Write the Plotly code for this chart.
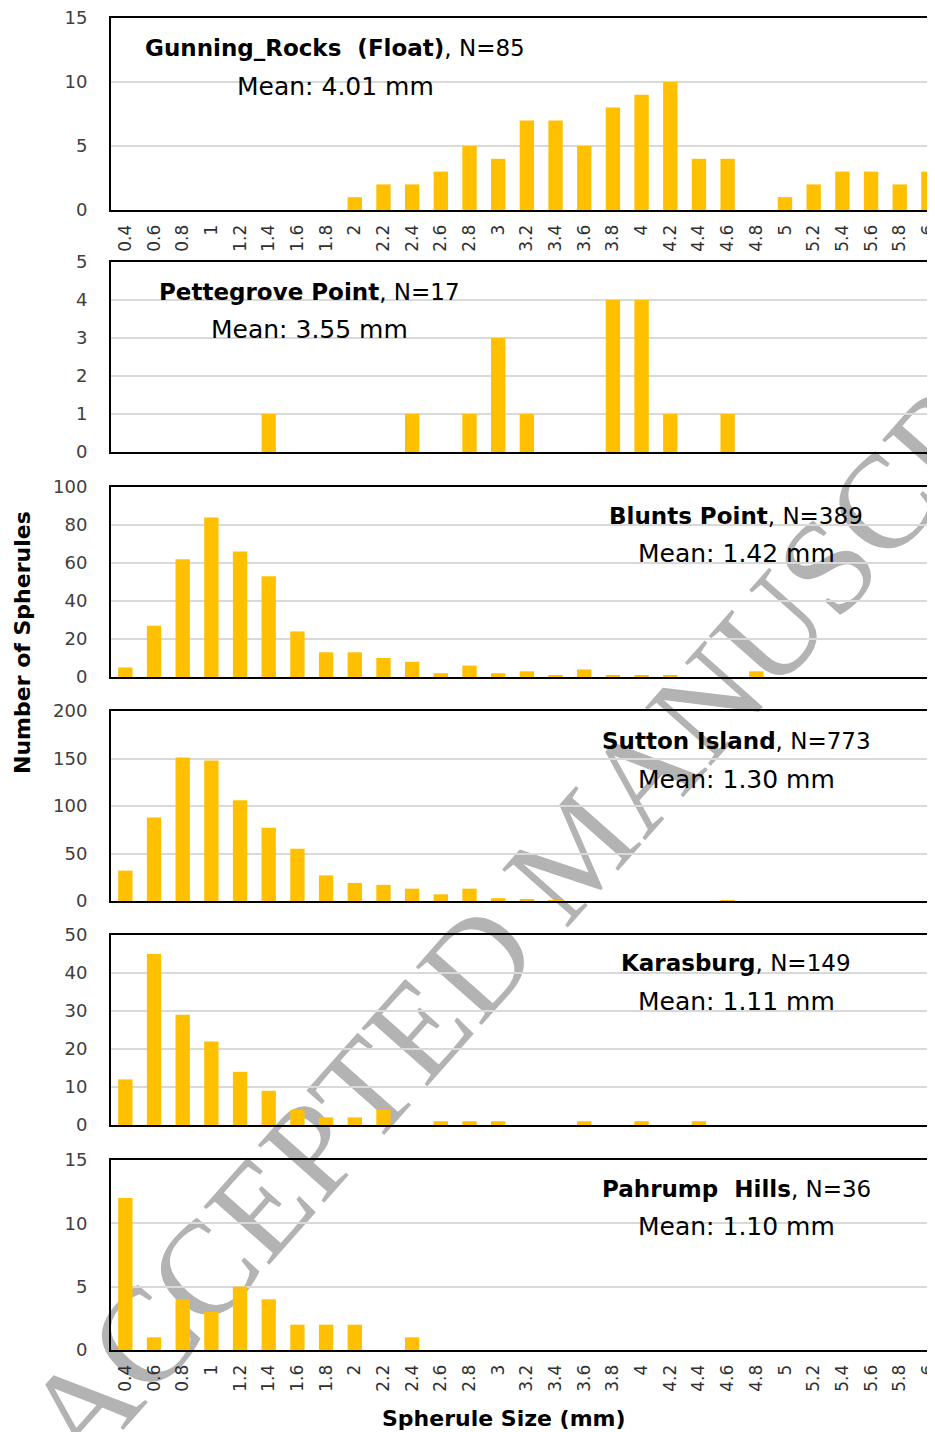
import plotly.graph_objects as go

# ---------------- data ----------------
cats = ["0.4", "0.6", "0.8", "1", "1.2", "1.4", "1.6", "1.8", "2", "2.2",
        "2.4", "2.6", "2.8", "3", "3.2", "3.4", "3.6", "3.8", "4", "4.2",
        "4.4", "4.6", "4.8", "5", "5.2", "5.4", "5.6", "5.8", "6"]

gunning_rocks = [0, 0, 0, 0, 0, 0, 0, 0, 1, 2, 2, 3, 5, 4, 7, 7, 5, 8, 9, 10,
                 4, 4, 0, 1, 2, 3, 3, 2, 3]
pettegrove = [0, 0, 0, 0, 0, 1, 0, 0, 0, 0, 1, 0, 1, 3, 1, 0, 0, 4, 4, 1,
              0, 1, 0, 0, 0, 0, 0, 0, 0]
blunts = [5, 27, 62, 84, 66, 53, 24, 13, 13, 10, 8, 2, 6, 2, 3, 1, 4, 1, 1, 1,
          0, 0, 3, 0, 0, 0, 0, 0, 0]
sutton = [32, 88, 151, 148, 106, 77, 55, 27, 19, 17, 13, 7, 13, 3, 2, 1, 0, 0, 0, 0,
          0, 1, 0, 0, 0, 0, 0, 0, 0]
karasburg = [12, 45, 29, 22, 14, 9, 4, 2, 2, 4, 0, 1, 1, 1, 0, 0, 1, 0, 1, 0,
             1, 0, 0, 0, 0, 0, 0, 0, 0]
pahrump = [12, 1, 4, 3, 5, 4, 2, 2, 2, 0, 1, 0, 0, 0, 0, 0, 0, 0, 0, 0,
           0, 0, 0, 0, 0, 0, 0, 0, 0]

site_names = ["Gunning_Rocks  (Float)", "Pettegrove Point", "Blunts Point",
              "Sutton Island", "Karasburg", "Pahrump  Hills"]
site_n = [85, 17, 389, 773, 149, 36]
site_mean = ["4.01", "3.55", "1.42", "1.30", "1.11", "1.10"]
series = [gunning_rocks, pettegrove, blunts, sutton, karasburg, pahrump]
y_max = [15, 5, 100, 200, 50, 15]
y_dtick = [5, 1, 20, 50, 10, 5]

# ---------------- layout geometry (screen pixels) ----------------
VIEW_W, VIEW_H = 935, 1432
OFF = 8                      # page body margin
W, H = VIEW_W - OFF, VIEW_H - OFF
X_LEFT = 111
panels_px = [(18, 210), (262, 452), (487, 677), (711, 901), (935, 1125), (1160, 1350)]
label_px = [(335, 48, 86), (309, 292, 329), (736, 516, 553),
            (736, 741, 779), (736, 963, 1001), (736, 1189, 1226)]

FONT = "DejaVu Sans"
BAR = "#FFC000"


def px(x):
    return (x - OFF) / W


def py(y):
    return 1 - (y - OFF) / H


fig = go.Figure()
layout = {}
annotations = []

for i, vals in enumerate(series):
    sfx = "" if i == 0 else str(i + 1)
    fig.add_trace(go.Bar(
        x=cats, y=vals, marker=dict(color=BAR, line=dict(width=0)),
        xaxis="x" + sfx, yaxis="y" + sfx, showlegend=False,
    ))
    top, bot = panels_px[i]
    layout["xaxis" + sfx] = dict(
        domain=[px(X_LEFT), 1], anchor="y" + sfx, type="category",
        categoryorder="array", categoryarray=cats, automargin=False,
        range=[-0.5, 28.23], showline=True, linecolor="black", linewidth=2,
        mirror=True, showgrid=False, zeroline=False,
        showticklabels=(i in (0, 5)), tickangle=-90, ticks="",
        tickfont=dict(family=FONT, size=17, color="#303030"),
        ticklabelstandoff=6, ticklabeloverflow="allow",
    )
    layout["yaxis" + sfx] = dict(
        domain=[py(bot), py(top)], anchor="x" + sfx, range=[0, y_max[i]],
        dtick=y_dtick[i], tick0=0, showgrid=True, gridcolor="#d9d9d9",
        gridwidth=1.5, showline=True, linecolor="black", linewidth=2,
        mirror=False, zeroline=False, ticks="", automargin=False,
        tickfont=dict(family=FONT, size=18, color="#404040"),
        ticklabelstandoff=18, ticklabeloverflow="allow",
    )
    cx, y1, y2 = label_px[i]
    annotations.append(dict(
        x=px(cx), y=py(y1), xref="paper", yref="paper", showarrow=False,
        xanchor="center", yanchor="middle",
        text=f"<b>{site_names[i]}</b>, N={site_n[i]}",
        font=dict(family=FONT, size=23, color="black"),
    ))
    annotations.append(dict(
        x=px(cx), y=py(y2), xref="paper", yref="paper", showarrow=False,
        xanchor="center", yanchor="middle",
        text=f"Mean: {site_mean[i]} mm",
        font=dict(family=FONT, size=25, color="black"),
    ))

# axis titles
annotations.append(dict(
    x=px(22), y=py(643), xref="paper", yref="paper", showarrow=False,
    xanchor="center", yanchor="middle", textangle=-90,
    text="<b>Number of Spherules</b>",
    font=dict(family=FONT, size=22, color="black"),
))
annotations.append(dict(
    x=px(504), y=py(1418), xref="paper", yref="paper", showarrow=False,
    xanchor="center", yanchor="middle",
    text="<b>Spherule Size (mm)</b>",
    font=dict(family=FONT, size=22, color="black"),
))

# watermark (drawn below the chart)
wm_c = (566, 839)
wm_d = (0.663, -0.748)
L = 400
shapes = [dict(
    type="line", xref="paper", yref="paper", layer="below",
    x0=px(wm_c[0] - L * wm_d[0]), y0=py(wm_c[1] - L * wm_d[1]),
    x1=px(wm_c[0] + L * wm_d[0]), y1=py(wm_c[1] + L * wm_d[1]),
    line=dict(color="rgba(0,0,0,0)", width=1),
    label=dict(text="ACCEPTED MANUSCRIPT", textposition="middle",
               textangle=-48.5, yanchor="middle",
               font=dict(family="Liberation Serif", size=134, color="#b3b3b3")),
)]

fig.update_layout(
    width=W, height=H, margin=dict(l=0, r=0, t=0, b=0, autoexpand=False),
    paper_bgcolor="white", plot_bgcolor="rgba(0,0,0,0)",
    bargap=0.5, annotations=annotations, shapes=shapes,
    **layout,
)

fig.write_html("out.html")
